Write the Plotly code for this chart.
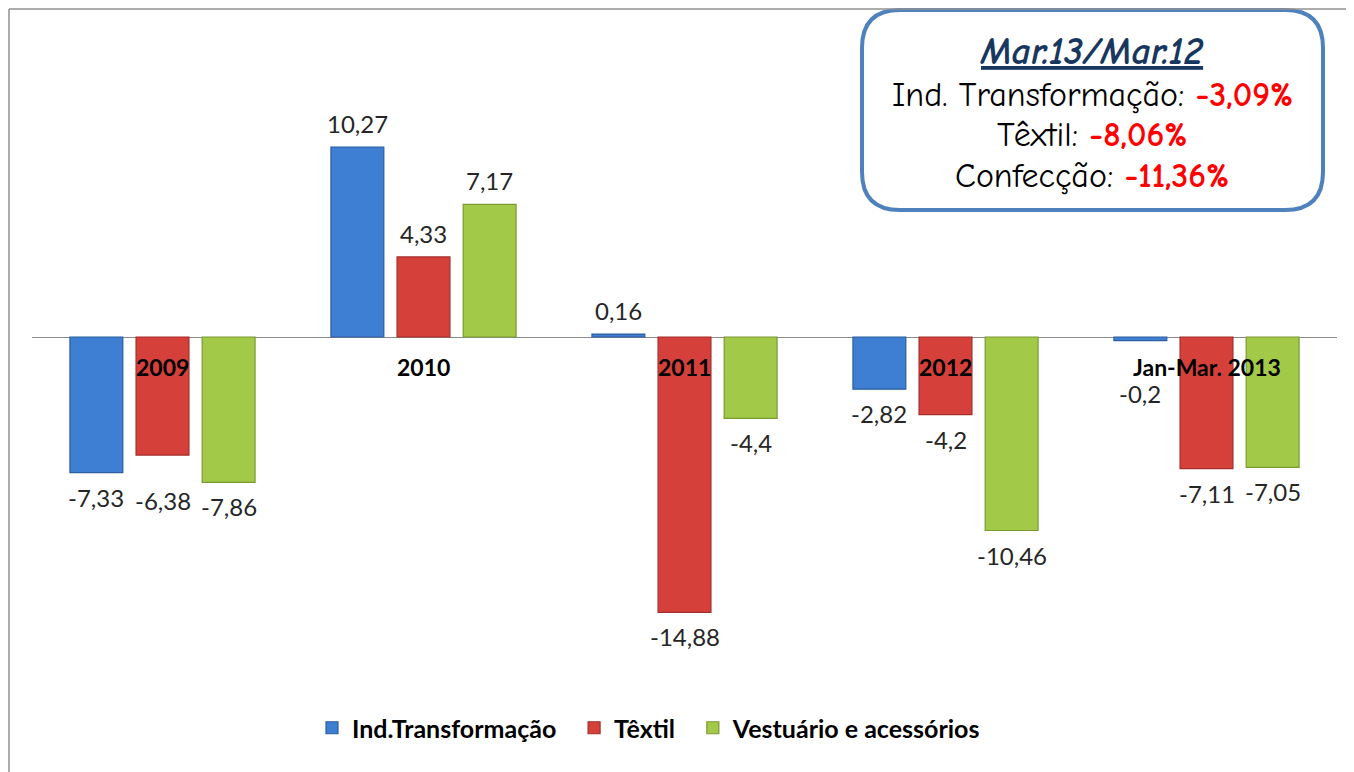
import plotly.graph_objects as go

categorias = ['2009', '2010', '2011', '2012', 'Jan-Mar. 2013']
ind_transformacao = [-7.33, 10.27, 0.16, -2.82, -0.2]
textil = [-6.38, 4.33, -14.88, -4.2, -7.11]
vestuario = [-7.86, 7.17, -4.4, -10.46, -7.05]

series = [
    ('Ind.Transformação', ind_transformacao, '#3F7FD3', '#2C5F9E'),
    ('Têxtil', textil, '#D5403B', '#A32E2B'),
    ('Vestuário e acessórios', vestuario, '#A2C947', '#7A9A30'),
]

# page has an 8px body margin, so the figure is a bit smaller than the window
OFF = 8
W, H = 1354, 772
X0, X1, Y0, Y1, ZERO = 32, 1337, 110, 680, 337   # plot area on screen
PW, PH = X1 - X0, Y1 - Y0
ESC = 18.5  # px per unit


def px(x):
    return (x - X0) / PW


def py(y):
    return (Y1 - y) / PH


fig = go.Figure()
for nome, vals, cor, borda in series:
    fig.add_trace(go.Bar(
        x=categorias, y=vals, name='<b>%s</b>&nbsp;&nbsp;' % nome,
        marker=dict(color=cor, line=dict(color=borda, width=1.2)),
        hoverinfo='skip'))

# data labels (Excel moved a couple of them further down)
ajuste = {(0, 1): -29, (4, 0): -36}
slot = PW / len(categorias) * (1 - 0.24) / 3
anns = []
for s, (nome, vals, cor, borda) in enumerate(series):
    for i, v in enumerate(vals):
        txt = ('%g' % v).replace('.', ',')
        if v >= 0:
            anc, sh = 'bottom', 7
        else:
            anc, sh = 'top', ajuste.get((i, s), -8)
        anns.append(dict(x=i, y=v, xref='x', yref='y', text=txt,
                         showarrow=False, xshift=(s - 1) * slot, yshift=sh,
                         yanchor=anc,
                         font=dict(family='Lato', size=24, color='#262626')))

for i, c in enumerate(categorias):
    anns.append(dict(x=i, y=0, xref='x', yref='y', text='<b>%s</b>' % c,
                     showarrow=False, yshift=-30, yanchor='middle',
                     font=dict(family='Lato', size=23, color='black')))

# box top right
cx = px(1092)
caixa = [
    (52, "<b><i><u>Mar.13/Mar.12</u></i></b>", '#17375E', 38),
    (95, "Ind. Transformação: <span style='color:#FF0000'><b>-3,09%</b></span>", 'black', 34),
    (135, "Têxtil: <span style='color:#FF0000'><b>-8,06%</b></span>", 'black', 34),
    (176, "Confecção: <span style='color:#FF0000'><b>-11,36%</b></span>", 'black', 34),
]
for yy, t, cor, tam in caixa:
    anns.append(dict(x=cx, y=py(yy), xref='paper', yref='paper', text=t,
                     showarrow=False, xanchor='center', yanchor='middle',
                     font=dict(family='Comic Neue, Noto Sans', size=tam, color=cor)))

# rounded rectangle path
x0, x1, y0, y1, r = 862, 1323, 10, 210, 38
p = lambda x, y: '%.5f,%.5f' % (px(x), py(y))
caminho = ('M ' + p(x0 + r, y0) + ' L ' + p(x1 - r, y0) +
           ' Q ' + p(x1, y0) + ' ' + p(x1, y0 + r) +
           ' L ' + p(x1, y1 - r) + ' Q ' + p(x1, y1) + ' ' + p(x1 - r, y1) +
           ' L ' + p(x0 + r, y1) + ' Q ' + p(x0, y1) + ' ' + p(x0, y1 - r) +
           ' L ' + p(x0, y0 + r) + ' Q ' + p(x0, y0) + ' ' + p(x0 + r, y0) + ' Z')

shapes = [
    dict(type='path', xref='paper', yref='paper', path=caminho,
         line=dict(color='#4F81BD', width=4), fillcolor='white', layer='above'),
    # image frame (right shadow, top/left border)
    dict(type='rect', xref='paper', yref='paper', x0=px(1346), x1=px(W), y0=py(8), y1=py(H),
         fillcolor='#A0A0A0', line=dict(width=0), layer='above'),
    dict(type='line', xref='paper', yref='paper', x0=px(9), x1=px(1346), y0=py(9), y1=py(9),
         line=dict(color='#909090', width=1.5), layer='above'),
    dict(type='line', xref='paper', yref='paper', x0=px(9), x1=px(9), y0=py(9), y1=py(H),
         line=dict(color='#909090', width=1.5), layer='above'),
]

fig.update_layout(
    width=W - OFF, height=H - OFF,
    margin=dict(l=X0 - OFF, r=W - X1, t=Y0 - OFF, b=H - Y1, autoexpand=False),
    paper_bgcolor='white', plot_bgcolor='white',
    barmode='group', bargap=0.24, bargroupgap=0.2,
    showlegend=True,
    legend=dict(orientation='h', x=px(312), xanchor='left', y=py(728), yanchor='middle',
                font=dict(family='Lato', size=25, color='black'),
                itemwidth=30, traceorder='normal'),
    annotations=anns,
    shapes=shapes,
    xaxis=dict(type='category', range=[-0.5, len(categorias) - 0.5], showticklabels=False,
               showgrid=False, zeroline=False, showline=False, ticks=''),
    yaxis=dict(range=[-(Y1 - ZERO) / ESC, (ZERO - Y0) / ESC], showticklabels=False,
               showgrid=False, zeroline=True, zerolinecolor='#8C8C8C', zerolinewidth=1.2,
               showline=False),
)

fig.write_html('out.html')
